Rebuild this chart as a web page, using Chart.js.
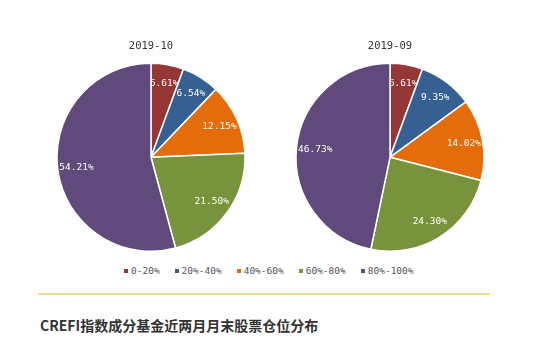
<!DOCTYPE html>
<html>
<head>
<meta charset="utf-8">
<script src="https://cdn.jsdelivr.net/npm/chart.js@4/dist/chart.umd.min.js"></script>
<style>
  body { margin:0; width:554px; height:344px; background:#fff; position:relative; overflow:hidden; }
  canvas { position:absolute; }
  #c1 { left:41px; top:34px; }
  #c2 { left:280px; top:34px; }
  #legend { position:absolute; left:124px; top:265px; display:flex; font:9.5px "DejaVu Sans Mono", monospace; color:#555; }
  #legend span.item { display:flex; align-items:center; margin-right:15px; white-space:nowrap; }
  #legend i { display:inline-block; width:4px; height:4px; margin-right:3px; }
  #line { position:absolute; left:38px; top:293px; width:452px; height:2px; background:#f1d98f; }
  #title { position:absolute; left:40px; top:315px; font:bold 14px "Noto Sans CJK SC", sans-serif; color:#333; white-space:nowrap; }
</style>
</head>
<body>
<canvas id="c1" width="220" height="217"></canvas>
<canvas id="c2" width="220" height="217"></canvas>
<div id="legend"></div>
<div id="line"></div>
<div id="title">CREFI指数成分基金近两月月末股票仓位分布</div>
<script>
const categories = ['0-20%', '20%-40%', '40%-60%', '60%-80%', '80%-100%'];
const oct = [5.61, 6.54, 12.15, 21.50, 54.21];
const sep = [5.61, 9.35, 14.02, 24.30, 46.73];
const colors = ['#953735', '#376092', '#e46c0a', '#77933c', '#604a7b'];

// labels inside the slices, near the edge
const sliceLabels = {
  id: 'sliceLabels',
  afterDatasetsDraw(chart) {
    const ctx = chart.ctx;
    const meta = chart.getDatasetMeta(0);
    const data = chart.data.datasets[0].data;
    ctx.save();
    ctx.fillStyle = '#fff';
    ctx.font = '9.5px "DejaVu Sans Mono", monospace';
    ctx.textAlign = 'center';
    ctx.textBaseline = 'middle';
    meta.data.forEach((arc, i) => {
      const p = arc.getProps(['x', 'y', 'startAngle', 'endAngle', 'outerRadius'], true);
      const a = (p.startAngle + p.endAngle) / 2;
      const r = p.outerRadius * 0.8;
      ctx.fillText(data[i].toFixed(2) + '%', p.x + Math.cos(a) * r, p.y + Math.sin(a) * r);
    });
    ctx.restore();
  }
};

function makePie(id, title, values) {
  new Chart(document.getElementById(id), {
    type: 'pie',
    data: {
      labels: categories,
      datasets: [{
        data: values,
        backgroundColor: colors,
        borderColor: '#fff',
        borderWidth: 1.5
      }]
    },
    options: {
      responsive: false,
      animation: false,
      radius: 94,
      layout: { padding: 0 },
      plugins: {
        legend: { display: false },
        tooltip: { enabled: false },
        title: {
          display: true,
          text: title,
          color: '#333',
          font: { family: '"DejaVu Sans Mono", monospace', size: 10.5, weight: 'normal' },
          padding: { top: 6, bottom: 11 }
        }
      }
    },
    plugins: [sliceLabels]
  });
}

makePie('c1', '2019-10', oct);
makePie('c2', '2019-09', sep);

const legend = document.getElementById('legend');
categories.forEach((c, i) => {
  const item = document.createElement('span');
  item.className = 'item';
  const sw = document.createElement('i');
  sw.style.background = colors[i];
  item.appendChild(sw);
  item.appendChild(document.createTextNode(c));
  legend.appendChild(item);
});
</script>
</body>
</html>
